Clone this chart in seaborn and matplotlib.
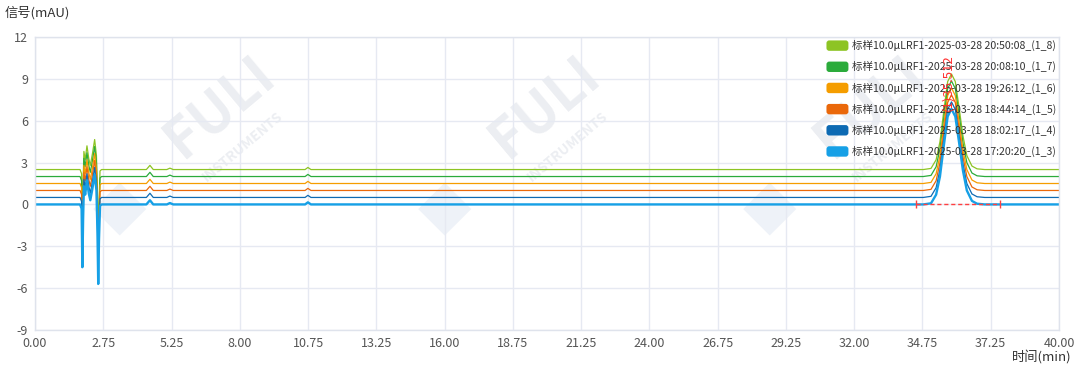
import matplotlib
matplotlib.use('Agg')
import matplotlib.pyplot as plt
import pandas as pd
import seaborn as sns
import numpy as np
from matplotlib.patches import FancyBboxPatch
from matplotlib.legend_handler import HandlerPatch
import matplotlib.patches as mpatches

# Chromatogram (light blue trace, 1_3), stacked display offsets per run
time_min = [0.00, 1.00, 1.76, 1.82, 1.85, 1.88, 1.91, 1.96, 2.03, 2.10, 2.16, 2.24, 2.33,
            2.40, 2.44, 2.47, 2.50, 2.54, 2.60, 4.35, 4.49, 4.62, 5.15, 5.27, 5.40,
            10.55, 10.66, 10.78, 20.00, 30.00, 34.70, 35.00, 35.20, 35.35, 35.50, 35.65,
            35.80, 35.95, 36.10, 36.25, 36.40, 36.60, 36.80, 37.10, 40.00]
signal_mau = [0.0, 0.0, 0.0, -0.3, -4.5, -1.0, 1.3, 0.7, 1.7, 0.8, 0.3, 1.1, 2.15,
              1.0, -2.0, -5.7, -2.5, -0.1, 0.0, 0.0, 0.3, 0.0, 0.0, 0.1, 0.0,
              0.0, 0.15, 0.0, 0.0, 0.0, 0.0, 0.08, 0.7, 2.0, 4.2, 6.3,
              6.85, 6.3, 4.4, 2.4, 1.0, 0.25, 0.05, 0.0, 0.0]

runs = ['1_8', '1_7', '1_6', '1_5', '1_4', '1_3']
stamps = ['20:50:08', '20:08:10', '19:26:12', '18:44:14', '18:02:17', '17:20:20']
offsets = [2.5, 2.0, 1.5, 1.0, 0.5, 0.0]
colors = ['#8dc424', '#2bab3b', '#f59d00', '#ea680a', '#0d6ab3', '#16a0e6']

x_tick_labels = ['0.00', '2.75', '5.25', '8.00', '10.75', '13.25', '16.00', '18.75',
                 '21.25', '24.00', '26.75', '29.25', '32.00', '34.75', '37.25', '40.00']
y_ticks = [-9, -6, -3, 0, 3, 6, 9, 12]

peak_label = '(1)35.512'
peak_rt = 35.65
peak_start, peak_end = 34.41, 37.70

sns.set_theme(style='white')
plt.rcParams['font.family'] = ['Noto Sans CJK SC', 'DejaVu Sans']

fig = plt.figure(figsize=(10.8, 3.71), dpi=100)
ax = fig.add_axes([35/1080, 41/371, 1024/1080, 293/371])
ax.set_zorder(2)
ax.patch.set_alpha(0)

# faint watermarks behind the plot
def add_watermark(px, py):
    fig.text((px + 100)/1080, 1 - (py - 100)/371, 'FULI', fontsize=40, fontweight='bold',
             color='#eceef2', rotation=40, ha='center', va='center', zorder=0)
    fig.text((px + 123)/1080, 1 - (py - 60)/371, 'INSTRUMENTS', fontsize=10, fontweight='bold',
             color='#eceef2', rotation=40, ha='center', va='center', zorder=0)
    fig.text(px/1080, 1 - py/371, '◆', fontsize=50, color='#eef2f8',
             ha='center', va='center', zorder=0, family='DejaVu Sans')

for wx in [120, 445, 770]:
    add_watermark(wx, 207)

labels = []
for run, stamp, off, col in zip(runs, stamps, offsets, colors):
    d = pd.DataFrame({'t': time_min, 'v': np.array(signal_mau) + off})
    lw = 1.7 if run == '1_3' else 0.9
    sns.lineplot(data=d, x='t', y='v', color=col, lw=lw, ax=ax, sort=False)
    labels.append('标样10.0μLRF1-2025-03-28 ' + stamp + '_(' + run + ')')

# peak integration baseline and label
ax.plot([peak_start, peak_end], [0, 0], color='#ff4040', lw=1, ls=(0, (3, 2)), zorder=5)
ax.plot([peak_start, peak_end], [0, 0], color='#ff4040', lw=0, marker='|', ms=6, zorder=5)
ax.text(peak_rt, 6.7, peak_label, rotation=90, color='#ff3030', fontsize=9.5,
        ha='center', va='bottom', zorder=6)

ax.set_xlim(0, 40)
ax.set_ylim(-9, 12)
ax.set_xticks(np.linspace(0, 40, len(x_tick_labels)))
ax.set_xticklabels(x_tick_labels)
ax.set_yticks(y_ticks)
ax.set_yticklabels([str(v) for v in y_ticks])
ax.tick_params(length=0, labelsize=9, colors='#555555', pad=5)
ax.set_xlabel('')
ax.set_ylabel('')
ax.grid(True, color='#e6e9f2', lw=1)
for s in ax.spines.values():
    s.set_color('#dfe3ec')
    s.set_linewidth(1)

fig.text(5/1080, 1 - 13/371, '信号(mAU)', fontsize=9.5, color='#333333', va='center')
fig.text(1072/1080, 1 - 358/371, '时间(min)', fontsize=9.5, color='#333333', va='center', ha='right')


class RoundHandler(HandlerPatch):
    def create_artists(self, legend, orig_handle, xdescent, ydescent, width, height, fontsize, trans):
        p = FancyBboxPatch((-xdescent, -ydescent), width, height,
                           boxstyle='round,pad=0,rounding_size=2',
                           facecolor=orig_handle.get_facecolor(), edgecolor='none', transform=trans)
        return [p]


handles = [mpatches.Patch(facecolor=c) for c in colors]
leg = ax.legend(handles, labels, loc='upper right', bbox_to_anchor=(1.0, 1.0), frameon=False,
                fontsize=7.6, handlelength=2.08, handleheight=1.14, handletextpad=0.3,
                labelspacing=0.95, borderaxespad=0.05, borderpad=0.25,
                handler_map={mpatches.Patch: RoundHandler()})
for t in leg.get_texts():
    t.set_color('#333333')

fig.savefig('out.png', dpi=100)
